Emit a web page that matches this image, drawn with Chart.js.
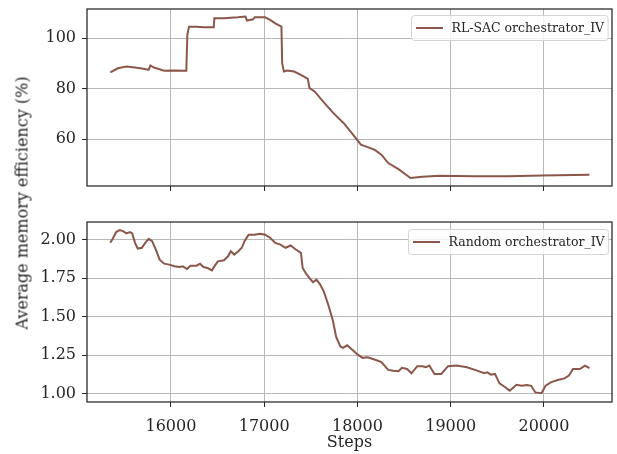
<!DOCTYPE html>
<html lang="en">
<head>
    <meta charset="UTF-8">
    <title>Average memory efficiency</title>
    <script src="https://cdn.jsdelivr.net/npm/chart.js"></script>
    <style>
        body { margin: 0; background: #fff; }
        #wrap { position: relative; width: 617px; height: 454px; }
        canvas { position: absolute; left: 0; }
        #topChart { top: 0; }
        #bottomChart { top: 210px; }
        #ytitle {
            position: absolute; left: 22px; top: 203px;
            transform: translate(-50%, -50%) rotate(-90deg);
            font: 16px "DejaVu Serif"; color: #262626; white-space: nowrap;
        }
    </style>
</head>
<body>
<div id="wrap">
    <canvas id="topChart" width="617" height="200"></canvas>
    <canvas id="bottomChart" width="617" height="244"></canvas>
    <div id="ytitle">Average memory efficiency (%)</div>
</div>
<script>
    // data
    const xTicks = [16000, 17000, 18000, 19000, 20000];
    const topTicks = [60, 80, 100];
    const bottomTicks = [1.00, 1.25, 1.50, 1.75, 2.00];

    const sacLabel = 'RL-SAC orchestrator_IV';
    const sacSteps = [15350, 15431, 15523, 15615, 15706, 15761, 15780, 15817, 15927, 16018,
        16165, 16176, 16194, 16275, 16349, 16459, 16466, 16569, 16716, 16800,
        16815, 16881, 16899, 17009, 17064, 17119, 17185, 17193, 17211, 17248,
        17321, 17394, 17468, 17486, 17541, 17633, 17743, 17853, 17927, 17982,
        18037, 18110, 18183, 18257, 18330, 18440, 18569, 18697, 18881, 19248,
        19615, 19982, 20488];
    const sacValues = [86.5, 88.1, 88.8, 88.4, 87.9, 87.5, 89.2, 88.4, 87.1, 87.2,
        87.1, 101.3, 104.6, 104.6, 104.4, 104.4, 107.9, 107.9, 108.3, 108.6,
        107.0, 107.5, 108.3, 108.3, 107.3, 105.9, 104.6, 90.1, 86.8, 87.2,
        86.8, 85.5, 83.9, 80.2, 78.9, 74.9, 70.3, 66.3, 63.0, 60.4,
        57.8, 56.8, 55.8, 53.8, 50.5, 48.1, 44.6, 45.1, 45.5, 45.3,
        45.3, 45.6, 45.9];

    const rndLabel = 'Random orchestrator_IV';
    const rndSteps = [15350, 15376, 15413, 15450, 15486, 15523, 15560, 15585, 15615, 15644,
        15688, 15725, 15761, 15798, 15835, 15879, 15927, 15982, 16037, 16092,
        16128, 16172, 16209, 16275, 16312, 16349, 16393, 16440, 16466, 16503,
        16569, 16613, 16642, 16679, 16723, 16760, 16789, 16833, 16899, 16954,
        17009, 17064, 17119, 17174, 17229, 17284, 17339, 17394, 17413, 17450,
        17486, 17523, 17560, 17596, 17640, 17688, 17736, 17772, 17817, 17846,
        17890, 17945, 18000, 18055, 18110, 18183, 18257, 18330, 18385, 18440,
        18477, 18532, 18580, 18642, 18697, 18734, 18771, 18826, 18899, 18972,
        19064, 19174, 19284, 19358, 19394, 19431, 19475, 19523, 19578, 19633,
        19706, 19761, 19817, 19864, 19908, 19974, 20018, 20073, 20147, 20220,
        20268, 20312, 20385, 20440, 20488];
    const rndValues = [1.978, 2.004, 2.048, 2.061, 2.054, 2.039, 2.048, 2.039, 1.978, 1.941,
        1.946, 1.978, 2.004, 1.989, 1.939, 1.869, 1.843, 1.837, 1.826, 1.821,
        1.826, 1.808, 1.830, 1.830, 1.843, 1.821, 1.815, 1.800, 1.826, 1.858,
        1.865, 1.891, 1.924, 1.902, 1.924, 1.946, 1.989, 2.031, 2.031, 2.037,
        2.031, 2.011, 1.978, 1.967, 1.946, 1.961, 1.935, 1.913, 1.815, 1.778,
        1.749, 1.723, 1.739, 1.712, 1.662, 1.575, 1.477, 1.368, 1.307, 1.298,
        1.314, 1.285, 1.255, 1.233, 1.237, 1.222, 1.205, 1.155, 1.150, 1.146,
        1.168, 1.161, 1.133, 1.179, 1.179, 1.172, 1.183, 1.129, 1.129, 1.179,
        1.183, 1.172, 1.150, 1.133, 1.139, 1.124, 1.129, 1.068, 1.046, 1.020,
        1.059, 1.052, 1.057, 1.052, 1.009, 1.004, 1.052, 1.074, 1.089, 1.100,
        1.118, 1.161, 1.161, 1.183, 1.166];

    const lineColor = '#8c564b';
    const gridColor = '#b8b8b8';
    const inkColor = '#262626';
    const serif = '"DejaVu Serif"';

    // axes frame on all four sides, like matplotlib spines
    const frame = {
        id: 'frame',
        afterDatasetsDraw(chart) {
            const { ctx, chartArea: a } = chart;
            ctx.save();
            ctx.strokeStyle = inkColor;
            ctx.lineWidth = 1.25;
            ctx.strokeRect(a.left, a.top, a.right - a.left, a.bottom - a.top);
            ctx.restore();
        }
    };

    // legend box in the upper right of the plot area
    const boxLegend = {
        id: 'boxLegend',
        afterDraw(chart, args, opts) {
            const { ctx, chartArea: a } = chart;
            ctx.save();
            ctx.font = '12.5px ' + serif;
            const tw = ctx.measureText(opts.text).width;
            const w = tw + 44, h = 25;
            const x = Math.round(a.right - 4 - w) + 0.5, y = Math.round(a.top + opts.offsetY) + 0.5;
            ctx.beginPath();
            ctx.roundRect(x, y, w, h, 3);
            ctx.fillStyle = 'rgba(255,255,255,0.8)';
            ctx.fill();
            ctx.strokeStyle = '#d4d4d4';
            ctx.lineWidth = 1;
            ctx.stroke();
            ctx.beginPath();
            ctx.moveTo(x + 4.5, y + h / 2);
            ctx.lineTo(x + 31.5, y + h / 2);
            ctx.strokeStyle = lineColor;
            ctx.lineWidth = 2;
            ctx.stroke();
            ctx.fillStyle = inkColor;
            ctx.textBaseline = 'middle';
            ctx.fillText(opts.text, x + 40, y + h / 2 + 0.5);
            ctx.restore();
        }
    };

    function noPad(s) {
        s.paddingTop = 0; s.paddingBottom = 0; s.paddingLeft = 0; s.paddingRight = 0;
    }

    function makeChart(id, label, steps, values, yMin, yMax, yTicks, yFmt, showX, legendOffset) {
        const xAxis = {
            type: 'linear', min: 15100, max: 20730,
            afterBuildTicks: s => { s.ticks = xTicks.map(v => ({ value: v })); },
            grid: { color: gridColor, lineWidth: 1, tickLength: 5, tickColor: inkColor },
            border: { display: false },
            ticks: {
                display: showX, color: inkColor, padding: 10,
                font: { family: serif, size: 16 },
                callback: v => String(v)
            },
            afterFit: s => { s.height = showX ? 52 : 14; noPad(s); }
        };
        if (showX) {
            xAxis.title = {
                display: true, text: 'Steps', color: inkColor,
                font: { family: serif, size: 16 },
                padding: { top: 0, bottom: 2 }
            };
        }
        return new Chart(document.getElementById(id), {
            type: 'line',
            data: {
                datasets: [{
                    label: label,
                    data: steps.map((s, i) => ({ x: s, y: values[i] })),
                    borderColor: lineColor,
                    borderWidth: 2,
                    pointRadius: 0,
                    tension: 0
                }]
            },
            options: {
                responsive: false,
                animation: false,
                layout: { padding: { top: showX ? 12 : 9, right: 5, left: 0, bottom: 0 } },
                scales: {
                    x: xAxis,
                    y: {
                        min: yMin, max: yMax,
                        afterBuildTicks: s => { s.ticks = yTicks.map(v => ({ value: v })); },
                        grid: { color: gridColor, lineWidth: 1, tickLength: 5, tickColor: inkColor },
                        border: { display: false },
                        ticks: {
                            color: inkColor, padding: 6,
                            font: { family: serif, size: 16 },
                            callback: yFmt
                        },
                        afterFit: s => { s.width = 87; noPad(s); }
                    }
                },
                plugins: {
                    legend: { display: false },
                    tooltip: { enabled: false },
                    boxLegend: { text: label, offsetY: legendOffset }
                }
            },
            plugins: [frame, boxLegend]
        });
    }

    makeChart('topChart', sacLabel, sacSteps, sacValues, 41.4, 111.6, topTicks,
        v => String(v), false, 6);
    makeChart('bottomChart', rndLabel, rndSteps, rndValues, 0.947, 2.113, bottomTicks,
        v => v.toFixed(2), true, 7);
</script>
</body>
</html>
